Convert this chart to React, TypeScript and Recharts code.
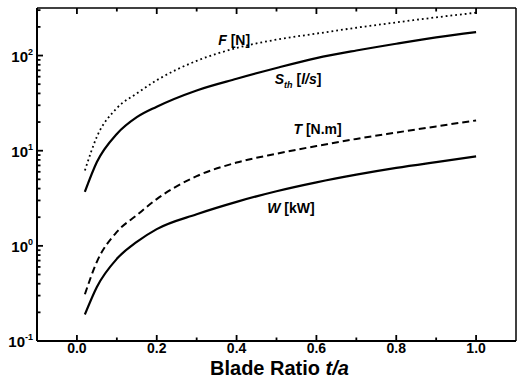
import { LineChart, Line, XAxis, YAxis, ReferenceDot } from 'recharts';

// Blade ratio t/a vs. F, S_th, T, W (log scale)
const ratio = [0.02, 0.05, 0.1, 0.15, 0.2, 0.3, 0.4, 0.5, 0.6, 0.7, 0.8, 0.9, 1.0];
const force = [6.2, 14, 28, 40, 55, 88, 120, 147, 170, 196, 223, 252, 282];
const slip = [3.7, 7.6, 15, 22.5, 29, 43, 57, 74, 94, 113, 133, 155, 176];
const torque = [0.31, 0.68, 1.4, 2.1, 3.1, 5.4, 7.5, 9.3, 11.2, 13.3, 15.5, 18, 20.8];
const power = [0.19, 0.37, 0.73, 1.1, 1.5, 2.15, 2.9, 3.75, 4.65, 5.6, 6.6, 7.6, 8.7];

const xTicks = [0, 0.1, 0.2, 0.3, 0.4, 0.5, 0.6, 0.7, 0.8, 0.9, 1.0];
const yTicks = [
  0.1, 0.2, 0.3, 0.4, 0.5, 0.6, 0.7, 0.8, 0.9,
  1, 2, 3, 4, 5, 6, 7, 8, 9,
  10, 20, 30, 40, 50, 60, 70, 80, 90,
  100, 200, 300,
];

// curve annotations, placed in data coordinates
const curveLabels = [
  { key: 'F', x: 0.394, y: 128, unit: ' [N]' },
  { key: 'S', x: 0.554, y: 50, unit: '' },
  { key: 'T', x: 0.603, y: 14.9, unit: ' [N.m]' },
  { key: 'W', x: 0.536, y: 2.2, unit: ' [kW]' },
];

const data = ratio.map((r, i) => ({
  ratio: r,
  F: force[i],
  S: slip[i],
  T: torque[i],
  W: power[i],
}));

const FONT = '"Liberation Sans", Arial, Helvetica, sans-serif';

const isMajorX = (v: number) => Math.round(v * 10) % 2 === 0;
const isMajorY = (v: number) => Math.abs(Math.log10(v) - Math.round(Math.log10(v))) < 1e-6;

// ticks point inward, majors longer than minors
function BottomTick(props: any) {
  const x = Number(props.x);
  const y = Number(props.y);
  const v = props.payload.value as number;
  const major = isMajorX(v);
  return (
    <g>
      <line x1={x} y1={y} x2={x} y2={y - (major ? 6 : 3.5)} stroke="#000" strokeWidth={1.8} />
      {major && (
        <text x={x} y={y + 12} textAnchor="middle" fontFamily={FONT} fontWeight="bold" fontSize={14} fill="#000">
          {v.toFixed(1)}
        </text>
      )}
    </g>
  );
}

function TopTick(props: any) {
  const x = Number(props.x);
  const y = Number(props.y);
  const major = isMajorX(props.payload.value);
  return (
    <g>
      <line x1={x} y1={y} x2={x} y2={y + (major ? 6 : 3.5)} stroke="#000" strokeWidth={1.8} />
    </g>
  );
}

function LeftTick(props: any) {
  const x = Number(props.x);
  const y = Number(props.y);
  const v = props.payload.value as number;
  const major = isMajorY(v);
  const exp = Math.round(Math.log10(v));
  return (
    <g>
      <line x1={x} y1={y} x2={x + (major ? 6 : 3.5)} y2={y} stroke="#000" strokeWidth={1.8} />
      {major && (
        <text x={x - 4} y={y + 6} textAnchor="end" fontFamily={FONT} fontWeight="bold" fontSize={15} fill="#000">
          <tspan>10</tspan>
          <tspan dy={-7} fontSize={9}>{exp}</tspan>
        </text>
      )}
    </g>
  );
}

function AxisTitle({ viewBox }: any) {
  const cx = viewBox.x + viewBox.width / 2 + 3;
  return (
    <text x={cx} y={viewBox.y + 34} textAnchor="middle" fontFamily={FONT} fontWeight="bold" fontSize={20} fill="#000">
      Blade Ratio <tspan fontStyle="italic">t/a</tspan>
    </text>
  );
}

function renderCurveLabel(key: string, unit: string) {
  return ({ viewBox }: any) => {
    const cx = viewBox.x + (viewBox.width || 0) / 2;
    const cy = viewBox.y + (viewBox.height || 0) / 2;
    const common = { fontFamily: FONT, fontWeight: 'bold' as const, fontSize: 14, fill: '#000' };
    if (key === 'S') {
      return (
        <text x={cx} y={cy} textAnchor="middle" {...common}>
          <tspan fontStyle="italic">S</tspan>
          <tspan fontStyle="italic" fontSize={9} dy={4}>th</tspan>
          <tspan dy={-4}> [</tspan>
          <tspan fontStyle="italic">l/s</tspan>
          <tspan>]</tspan>
        </text>
      );
    }
    return (
      <text x={cx} y={cy} textAnchor="middle" {...common}>
        <tspan fontStyle="italic">{key}</tspan>
        <tspan>{unit}</tspan>
      </text>
    );
  };
}

export default function App() {
  return (
    <div style={{ position: 'absolute', left: 0, top: 0, background: '#fff' }}>
      <LineChart width={517} height={388} data={data} margin={{ top: 7, right: 0, left: 0, bottom: 0 }}>
        <XAxis
          xAxisId="b"
          dataKey="ratio"
          type="number"
          domain={[-0.1, 1.1]}
          ticks={xTicks}
          interval={0}
          tickSize={0}
          tickMargin={0}
          tickLine={false}
          tick={BottomTick}
          height={47}
          axisLine={{ stroke: '#000', strokeWidth: 2 }}
          allowDataOverflow
          label={{ content: AxisTitle }}
        />
        <XAxis
          xAxisId="t"
          orientation="top"
          dataKey="ratio"
          type="number"
          domain={[-0.1, 1.1]}
          ticks={xTicks}
          interval={0}
          tickSize={0}
          tickMargin={0}
          tickLine={false}
          tick={TopTick}
          height={1}
          axisLine={{ stroke: '#000', strokeWidth: 1.5 }}
          allowDataOverflow
        />
        <YAxis
          yAxisId="l"
          type="number"
          scale="log"
          domain={[0.1, 316]}
          ticks={yTicks}
          interval={0}
          tickSize={0}
          tickMargin={0}
          tickLine={false}
          tick={LeftTick}
          width={37}
          axisLine={{ stroke: '#000', strokeWidth: 2 }}
          allowDataOverflow
        />
        <YAxis
          yAxisId="r"
          orientation="right"
          type="number"
          scale="log"
          domain={[0.1, 316]}
          ticks={[0.1, 1, 10, 100]}
          tick={false}
          tickLine={false}
          width={1}
          axisLine={{ stroke: '#000', strokeWidth: 1.5 }}
          allowDataOverflow
        />
        <Line xAxisId="b" yAxisId="l" type="monotone" dataKey="F" stroke="#000" strokeWidth={1.8} strokeDasharray="1.8 3" dot={false} isAnimationActive={false} />
        <Line xAxisId="b" yAxisId="l" type="monotone" dataKey="S" stroke="#000" strokeWidth={2.2} dot={false} isAnimationActive={false} />
        <Line xAxisId="b" yAxisId="l" type="monotone" dataKey="T" stroke="#000" strokeWidth={2} strokeDasharray="7 4" dot={false} isAnimationActive={false} />
        <Line xAxisId="b" yAxisId="l" type="monotone" dataKey="W" stroke="#000" strokeWidth={2.2} dot={false} isAnimationActive={false} />
        {curveLabels.map((c) => (
          <ReferenceDot
            key={c.key}
            xAxisId="b"
            yAxisId="l"
            x={c.x}
            y={c.y}
            r={0}
            fill="none"
            stroke="none"
            label={{ content: renderCurveLabel(c.key, c.unit) }}
          />
        ))}
      </LineChart>
    </div>
  );
}
